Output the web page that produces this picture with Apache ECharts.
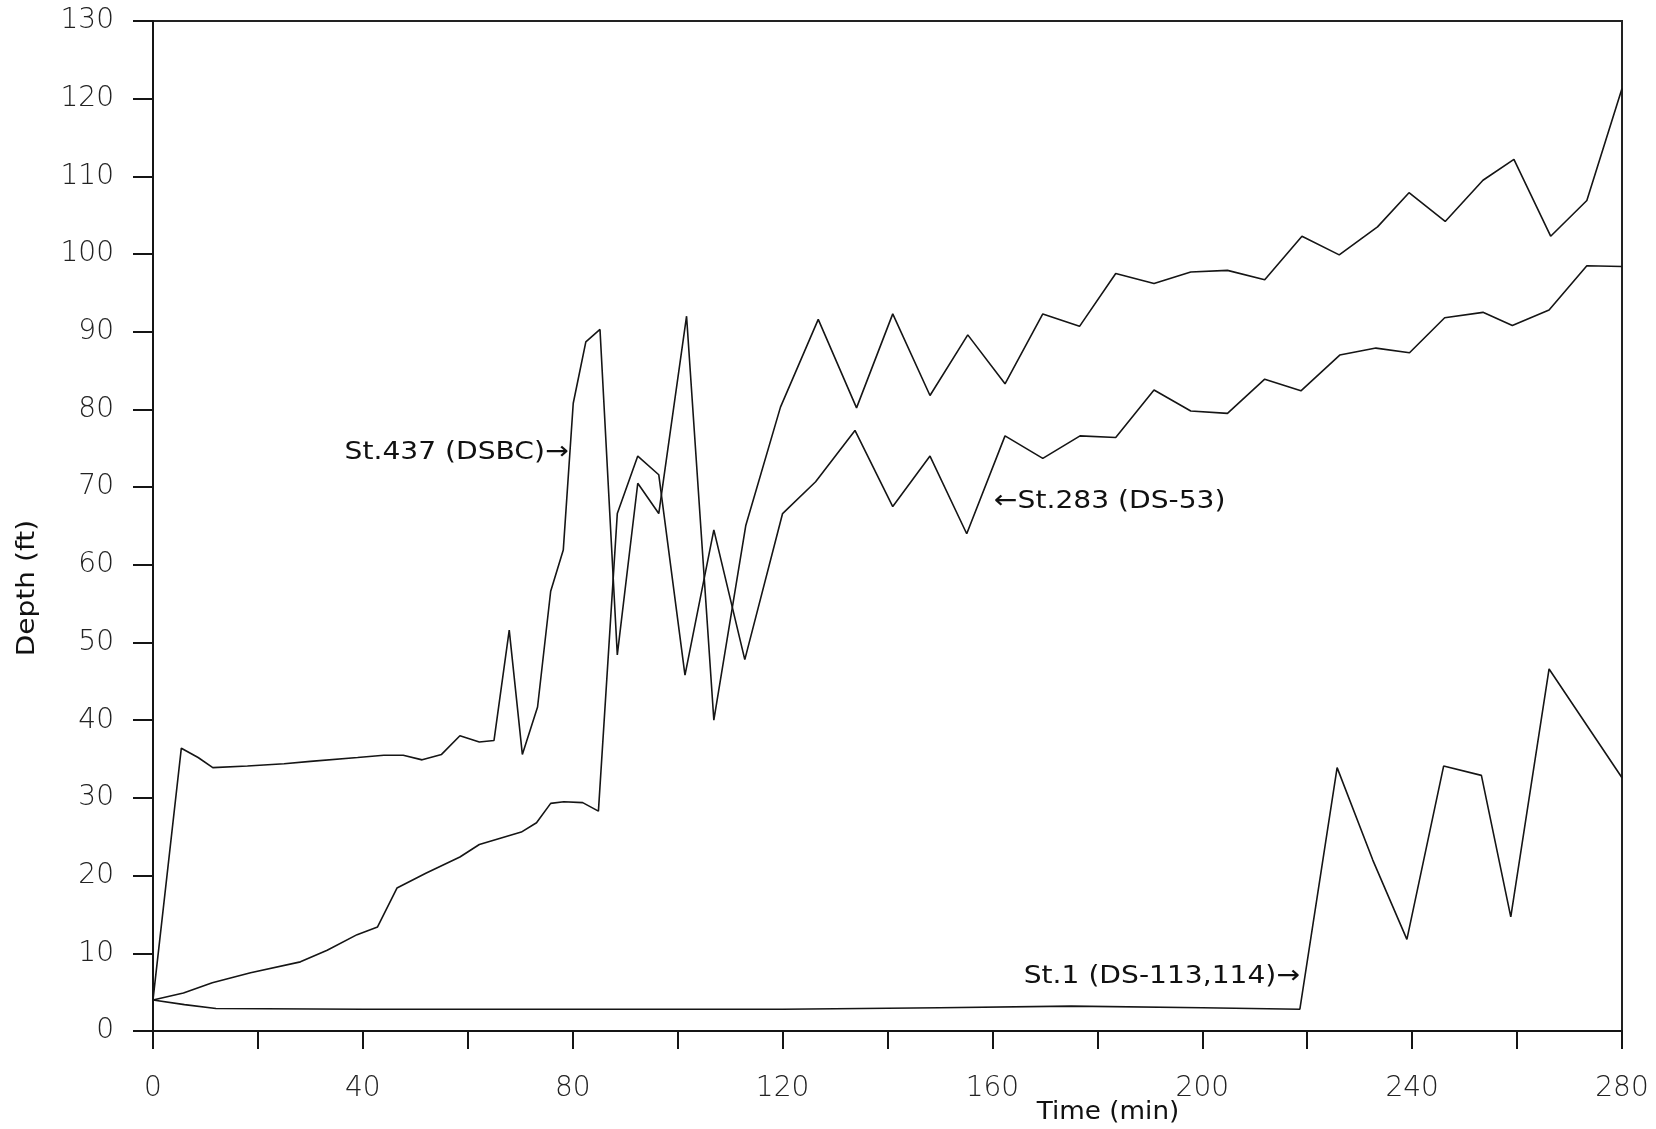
<!DOCTYPE html>
<html>
<head>
<meta charset="utf-8">
<title>Depth vs Time</title>
<script src="https://cdn.jsdelivr.net/npm/echarts@6/dist/echarts.min.js"></script>
<style>
  html, body { margin: 0; padding: 0; background: #fff; }
  #chart { width: 1656px; height: 1129px; }
</style>
</head>
<body>
<div id="chart"></div>
<script>
// Station 437 (DSBC): time (min) and depth (ft)
const time437 = [0, 5.4, 8.6, 11.4, 18, 25, 30, 39, 44, 47.7, 51.3, 55, 58.5, 62.2, 65, 67.9, 70.4, 73.3, 75.8, 78.2,
  80.1, 82.5, 85.2, 88.5, 92.4, 96.4, 101.7, 106.9, 113, 119.6, 126.8, 134.1, 141, 148.1, 155.3, 162.4, 169.6, 176.6,
  183.5, 190.8, 197.8, 204.8, 211.9, 219, 226.1, 233.4, 239.4, 246.3, 253.5, 259.4, 266.4, 273.3, 280];
const depth437 = [4, 36.4, 35.2, 33.9, 34.1, 34.4, 34.7, 35.2, 35.5, 35.5, 34.9, 35.6, 38.0, 37.2, 37.4, 51.6, 35.6, 41.7, 56.6, 61.9,
  80.8, 88.7, 90.3, 48.4, 70.5, 66.6, 92.0, 40.0, 65.1, 80.3, 91.6, 80.2, 92.3, 81.8, 89.6, 83.3, 92.3, 90.7,
  97.5, 96.2, 97.7, 97.9, 96.7, 102.3, 99.9, 103.5, 107.9, 104.2, 109.5, 112.2, 102.3, 106.9, 121.3];

// Station 283 (DS-53)
const time283 = [0, 5.8, 11.3, 18.6, 28.1, 33.2, 38.9, 42.8, 46.5, 52, 58.5, 62.2, 66.2, 70.2, 73.1, 75.8, 78.3, 81.9, 84.9, 88.5,
  92.4, 96.4, 101.4, 106.9, 112.8, 120, 126.3, 133.8, 141, 148.1, 155.1, 162.4, 169.6, 176.7, 183.5, 190.8, 197.8, 204.8,
  211.9, 218.8, 226.2, 233.1, 239.5, 246.2, 253.5, 259.1, 266.1, 273.3, 280];
const depth283 = [4, 4.9, 6.2, 7.5, 8.9, 10.4, 12.4, 13.4, 18.4, 20.3, 22.4, 24.0, 24.8, 25.6, 26.8, 29.3, 29.5, 29.4, 28.3, 66.6,
  74.0, 71.6, 45.8, 64.5, 47.8, 66.6, 70.7, 77.3, 67.5, 74.0, 64.0, 76.6, 73.7, 76.6, 76.4, 82.5, 79.8, 79.5,
  83.9, 82.4, 87.0, 87.9, 87.3, 91.8, 92.5, 90.8, 92.8, 98.5, 98.4];

// Station 1 (DS-113,114)
const time1 = [0, 6, 12, 40, 80, 120, 150, 175, 200, 218.6, 225.7, 232.5, 239, 246, 253.2, 258.8, 266.1, 280];
const depth1 = [4.0, 3.4, 2.9, 2.8, 2.8, 2.8, 3.0, 3.2, 3.0, 2.8, 33.9, 22.0, 11.8, 34.1, 32.9, 14.7, 46.6, 32.6];

// Axis ticks
const xTicks = [0, 40, 80, 120, 160, 200, 240, 280];
const yTicks = [0, 10, 20, 30, 40, 50, 60, 70, 80, 90, 100, 110, 120, 130];

// Station labels: text, anchor point (time, depth), which side the anchor is on
const labelTexts = ['St.437 (DSBC)\u2192', '\u2190St.283 (DS-53)', 'St.1 (DS-113,114)\u2192'];
const labelAnchors = [[79.2, 74.4], [160.3, 68.1], [218.6, 7.0]];
const labelAlign = ['right', 'left', 'right'];

const pairs = (ts, ds) => ts.map((t, i) => [t, ds[i]]);

const INK = '#151515';
const labelFont = { fontFamily: 'DejaVu Sans', fontWeight: 200, fontSize: 28, color: '#222' };

const chart = echarts.init(document.getElementById('chart'), null, { renderer: 'canvas' });

const lineSeries = (name, data) => ({
  name, type: 'line', data, showSymbol: false, symbol: 'none',
  lineStyle: { color: INK, width: 1.6 }, z: 3
});

chart.setOption({
  animation: false,
  backgroundColor: '#ffffff',
  grid: { left: 153, right: 34, top: 21, bottom: 98, show: true, borderColor: '#222', borderWidth: 2, backgroundColor: 'transparent' },
  xAxis: {
    type: 'value', min: 0, max: 280, interval: 20,
    axisLine: { show: true, onZero: false, lineStyle: { color: INK, width: 2 } },
    axisTick: { show: true, inside: false, length: 18, lineStyle: { color: INK, width: 2 } },
    axisLabel: Object.assign({ margin: 44, formatter: v => (xTicks.includes(v) ? String(v) : '') }, labelFont),
    splitLine: { show: false }
  },
  yAxis: {
    type: 'value', min: 0, max: 130, interval: 10,
    axisLine: { show: true, onZero: false, lineStyle: { color: INK, width: 2 } },
    axisTick: { show: true, inside: false, length: 20, lineStyle: { color: INK, width: 2 } },
    axisLabel: Object.assign({ margin: 39, formatter: v => (yTicks.includes(v) ? String(v) : '') }, labelFont),
    splitLine: { show: false }
  },
  series: [
    lineSeries('St.437 (DSBC)', pairs(time437, depth437)),
    lineSeries('St.283 (DS-53)', pairs(time283, depth283)),
    lineSeries('St.1 (DS-113,114)', pairs(time1, depth1))
  ]
});

// Axis titles and station labels, placed after the grid is laid out
const textStyle = (text, size, align) => ({
  text, fontFamily: 'DejaVu Sans', fontSize: size, fill: '#111', align, verticalAlign: 'middle'
});

const graphics = [
  { type: 'text', x: 27, y: 588, rotation: Math.PI / 2, scaleX: 1.12, style: textStyle('Depth (ft)', 25, 'center') },
  { type: 'text', x: 1108, y: 1112, scaleX: 1.05, style: textStyle('Time (min)', 25, 'center') }
];

labelTexts.forEach((txt, i) => {
  const p = chart.convertToPixel({ gridIndex: 0 }, labelAnchors[i]);
  graphics.push({ type: 'text', x: p[0], y: p[1], scaleX: 1.125, style: textStyle(txt, 25, labelAlign[i]) });
});

chart.setOption({ graphic: graphics });
</script>
</body>
</html>
